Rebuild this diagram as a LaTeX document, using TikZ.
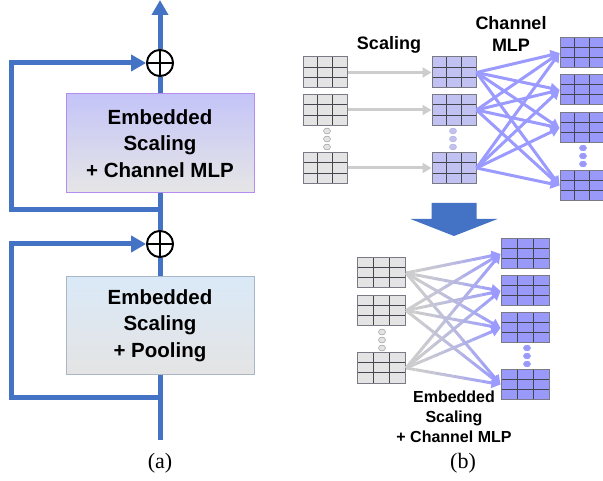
\documentclass[tikz,border=0pt]{standalone}
\usepackage{fontspec}
\setmainfont{Liberation Serif}
\setsansfont{Liberation Sans}
\usetikzlibrary{arrows.meta,calc}

\definecolor{flowblue}{HTML}{4472C4}
\definecolor{mlpline}{HTML}{9A9AFF}
\definecolor{tilegrey}{HTML}{E4E4E4}
\definecolor{tilelav}{HTML}{C2C2F2}
\definecolor{tilepurple}{HTML}{9999FA}
\definecolor{gridline}{HTML}{45454F}
\definecolor{gridedge}{HTML}{7A7A86}
\definecolor{scaleline}{HTML}{CDCDCD}
\definecolor{boxAtop}{HTML}{C4C4F8}
\definecolor{boxAbot}{HTML}{E6E6E6}
\definecolor{boxAedge}{HTML}{B48CF2}
\definecolor{boxBtop}{HTML}{DAE9F7}
\definecolor{boxBbot}{HTML}{E4E4E4}
\definecolor{boxBedge}{HTML}{A8B6C8}

\tikzset{
  flow/.style={draw=flowblue, line width=5pt},
  bighead/.style={-{Triangle[width=16pt,length=15pt]}},
  addop/.style={circle, draw=black, line width=1.8pt, fill=white,
    minimum size=26pt, inner sep=0pt,
    path picture={\draw[black, line width=1.8pt]
      (path picture bounding box.north) -- (path picture bounding box.south)
      (path picture bounding box.west) -- (path picture bounding box.east);}},
  block/.style={rectangle, inner sep=0pt, minimum width=188pt, align=center,
    line width=1pt, font=\sffamily\bfseries\fontsize{20.5}{26.5}\selectfont},
  tile/.style={rectangle, inner sep=0pt, fill=#1, draw=gridedge, line width=1pt,
    path picture={
      \foreach \f in {1,2}{
        \draw[gridline, line width=1pt]
          ($(path picture bounding box.north west)!\f/3!(path picture bounding box.north east)$) --
          ($(path picture bounding box.south west)!\f/3!(path picture bounding box.south east)$);
        \draw[gridline, line width=1pt]
          ($(path picture bounding box.north west)!\f/3!(path picture bounding box.south west)$) --
          ($(path picture bounding box.north east)!\f/3!(path picture bounding box.south east)$);
      }}},
  smalltile/.style={tile=#1, minimum width=44pt, minimum height=31pt},
  widetile/.style={tile=#1, minimum width=48pt, minimum height=30pt},
  scalearrow/.style={draw=scaleline, line width=3pt, -{Triangle[width=10pt,length=9pt]}},
  mlparrow/.style={draw=mlpline, line width=3pt, -{Triangle[width=10pt,length=9pt]}},
  lbl/.style={align=center, inner sep=0pt, font=\sffamily\bfseries\fontsize{18}{22}\selectfont},
  sublbl/.style={align=center, inner sep=0pt, font=\sffamily\bfseries\fontsize{16}{20}\selectfont},
  caption/.style={inner sep=0pt, font=\fontsize{22}{24}\selectfont},
}

\newcommand{\dotstack}[4]{% x, y of first dot, fill, edge
  \foreach \d in {0,1,2}{
    \filldraw[fill=#3, draw=#4, line width=0.6pt] (#1,#2+8*\d) ellipse [x radius=3.5pt, y radius=2.9pt];
  }}

\begin{document}
\begin{tikzpicture}[x=1pt,y=-1pt]
\useasboundingbox (0,0) rectangle (603,481);

% ---------------- (a) residual stack ----------------
\node[block, minimum height=99pt, top color=boxAtop, bottom color=boxAbot, draw=boxAedge]
  (emb1) at (160,143.5) {Embedded\\Scaling\\+ Channel MLP};
\node[block, minimum height=97pt, top color=boxBtop, bottom color=boxBbot, draw=boxBedge]
  (emb2) at (160,325.5) {Embedded\\Scaling\\+ Pooling};
\node[addop] (add1) at (160,63) {};
\node[addop] (add2) at (160,244) {};
\coordinate (base) at (160,440);
\coordinate (out) at (160,0);
\coordinate (j1) at (160,210);
\coordinate (k1) at (11,210);
\coordinate (j2) at (160,397);
\coordinate (k2) at (11,397);

\draw[flow] (base) -- (emb2.south);
\draw[flow] (emb2.north) -- (add2.south);
\draw[flow] (add2.north) -- (emb1.south);
\draw[flow] (emb1.north) -- (add1.south);
\draw[flow, bighead] (add1.north) -- (out);
\draw[flow, bighead] (j2) -- (k2) |- (add2.west);
\draw[flow, bighead] (j1) -- (k1) |- (add1.west);
\node[addop] at (add1) {};
\node[addop] at (add2) {};

\node[caption] (capa) at (160,463) {(a)};

% ---------------- (b) top: scaling + channel MLP ----------------
\node[smalltile=tilegrey] (s1) at (325,72.5) {};
\node[smalltile=tilegrey] (s2) at (325,110) {};
\node[smalltile=tilegrey] (s3) at (325,168) {};
\node[smalltile=tilelav] (m1) at (454,72.5) {};
\node[smalltile=tilelav] (m2) at (454,110) {};
\node[smalltile=tilelav] (m3) at (454,168) {};
\node[smalltile=tilepurple, minimum height=30pt] (o1) at (582,53) {};
\node[smalltile=tilepurple, minimum height=30pt] (o2) at (582,90) {};
\node[smalltile=tilepurple, minimum height=30pt] (o3) at (582,128) {};
\node[smalltile=tilepurple, minimum height=30pt] (o4) at (582,185.5) {};

\dotstack{327}{131}{tilegrey}{gray!70}
\dotstack{453}{131}{tilelav}{tilelav!80!gray}
\dotstack{583}{148}{tilepurple}{tilepurple}

\foreach \i in {1,2,3}{
  \draw[scalearrow] (s\i.east) -- (m\i.west);
  \foreach \j in {1,2,3,4}{
    \draw[mlparrow] (m\i.east) -- (o\j.west);
  }
}

\node[lbl] (lscale) at (389,45) {Scaling};
\node[lbl] (lmlp) at (511,34) {Channel\\MLP};

% transition arrow
\fill[flowblue] (431.5,203) -- (476.5,203) -- (476.5,219) -- (497.5,219)
  -- (454,236) -- (410.5,219) -- (431.5,219) -- cycle;

% ---------------- (b) bottom: fused operator ----------------
\node[widetile=tilegrey] (p1) at (381.5,273) {};
\node[widetile=tilegrey] (p2) at (381.5,310.5) {};
\node[widetile=tilegrey] (p3) at (381.5,368) {};
\node[widetile=tilepurple] (q1) at (525,254) {};
\node[widetile=tilepurple] (q2) at (525,291) {};
\node[widetile=tilepurple] (q3) at (525,328) {};
\node[widetile=tilepurple] (q4) at (525,384.5) {};

\dotstack{382}{332}{tilegrey}{gray!70}
\dotstack{527}{348}{tilepurple}{tilepurple}

% grey-to-purple connectors, drawn in short colour steps
\foreach \i in {1,2,3}{
  \foreach \j in {1,2,3,4}{
    \foreach \k in {0,...,8}{
      \pgfmathtruncatemacro\mixval{100*(\k/9)^1.4}
      \draw[line width=3pt, draw=mlpline!\mixval!scaleline]
        ($(p\i.east)!{\k/10}!(q\j.west)$) -- ($(p\i.east)!{(\k+1)/10}!(q\j.west)$);
    }
    \draw[mlparrow] ($(p\i.east)!0.9!(q\j.west)$) -- (q\j.west);
  }
}

\node[sublbl] (lfused) at (454,417) {Embedded\\Scaling\\+ Channel MLP};
\node[caption] (capb) at (463,463) {(b)};
\end{tikzpicture}
\end{document}
